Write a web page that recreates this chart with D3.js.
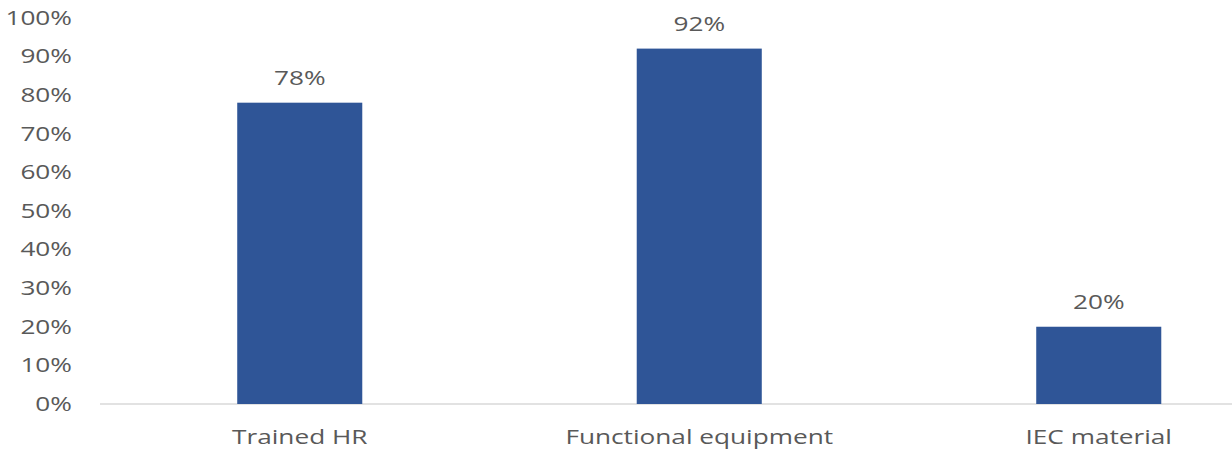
<!DOCTYPE html>
<html lang="en">
<head>
  <meta charset="UTF-8" />
  <title>Bar chart</title>
  <script src="https://d3js.org/d3.v7.min.js"></script>
  <style>
    body { margin: 0; background: #fff; }
    text { font-family: "Open Sans", sans-serif; fill: #595959; }
  </style>
</head>
<body>
  <svg id="chart" width="1232" height="450"></svg>

  <script>
    const categories = ["Trained HR", "Functional equipment", "IEC material"];
    const values = [0.78, 0.92, 0.20];
    const yTicks = [0, 0.1, 0.2, 0.3, 0.4, 0.5, 0.6, 0.7, 0.8, 0.9, 1.0];

    const width = 1232;
    const height = 450;
    const stretch = 1.31; // source picture is stretched sideways

    const svg = d3.select("#chart");

    const x = d3.scaleBand()
      .domain(categories)
      .range([100, 1298.5])
      .paddingInner(0.687)
      .paddingOuter(0.3435);

    const y = d3.scaleLinear()
      .domain([0, 1])
      .range([404, 17.7]);

    const pct = d3.format(".0%");

    // baseline
    svg.append("line")
      .attr("x1", 100)
      .attr("x2", width)
      .attr("y1", y(0))
      .attr("y2", y(0))
      .attr("stroke", "#d9d9d9")
      .attr("stroke-width", 1.5);

    // y tick labels
    svg.selectAll(".ytick")
      .data(yTicks)
      .join("text")
      .attr("class", "ytick")
      .attr("transform", d => `translate(72,${y(d)}) scale(${stretch},1)`)
      .attr("text-anchor", "end")
      .attr("dy", "0.35em")
      .style("font-size", "20px")
      .text(d => pct(d));

    // bars
    svg.selectAll(".bar")
      .data(values)
      .join("rect")
      .attr("class", "bar")
      .attr("x", (d, i) => x(categories[i]))
      .attr("width", x.bandwidth())
      .attr("y", d => y(d))
      .attr("height", d => y(0) - y(d))
      .attr("fill", "#2f5597");

    // value labels
    svg.selectAll(".vlabel")
      .data(values)
      .join("text")
      .attr("class", "vlabel")
      .attr("transform", (d, i) =>
        `translate(${x(categories[i]) + x.bandwidth() / 2},${y(d) - 17.5}) scale(${stretch},1)`)
      .attr("text-anchor", "middle")
      .style("font-size", "20px")
      .text(d => pct(d));

    // category labels
    svg.selectAll(".xlabel")
      .data(categories)
      .join("text")
      .attr("class", "xlabel")
      .attr("transform", d => `translate(${x(d) + x.bandwidth() / 2},444) scale(${stretch},1)`)
      .attr("text-anchor", "middle")
      .style("font-size", "20px")
      .text(d => d);
  </script>
</body>
</html>
